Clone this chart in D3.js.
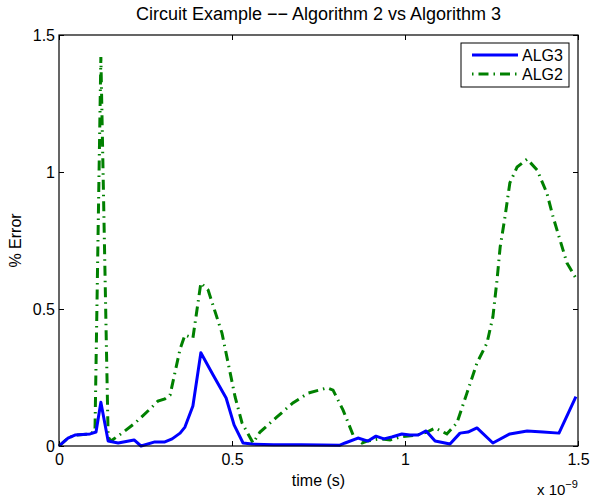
<!DOCTYPE html>
<html>
<head>
<meta charset="utf-8">
<script src="https://cdn.jsdelivr.net/npm/d3@7"></script>
<style>
  body { margin: 0; background: #fff; }
  svg text { font-family: "Liberation Sans", Arial, Helvetica, sans-serif; fill: #000; }
</style>
</head>
<body>
<div id="chart"></div>
<script>
// time in units of 1e-9 s, error in %
var alg3T = [0, 0.026, 0.046, 0.09, 0.107, 0.121, 0.142, 0.171, 0.217, 0.237, 0.277, 0.306, 0.327, 0.35, 0.364, 0.387, 0.41, 0.445, 0.483, 0.506, 0.532, 0.558, 0.62, 0.7, 0.76, 0.812, 0.827, 0.864, 0.893, 0.916, 0.939, 0.962, 0.991, 1.014, 1.038, 1.061, 1.087, 1.13, 1.159, 1.182, 1.208, 1.254, 1.303, 1.353, 1.399, 1.445, 1.494];
var alg3V = [0, 0.029, 0.04, 0.044, 0.051, 0.16, 0.018, 0.011, 0.022, 0.0, 0.015, 0.015, 0.026, 0.047, 0.069, 0.146, 0.34, 0.26, 0.175, 0.077, 0.011, 0.007, 0.005, 0.005, 0.004, 0.003, 0.011, 0.029, 0.018, 0.036, 0.026, 0.033, 0.044, 0.04, 0.04, 0.055, 0.018, 0.007, 0.047, 0.051, 0.066, 0.011, 0.044, 0.055, 0.051, 0.047, 0.18];

var alg2T = [0, 0.026, 0.046, 0.09, 0.104, 0.121, 0.142, 0.15, 0.182, 0.22, 0.269, 0.286, 0.306, 0.321, 0.35, 0.364, 0.387, 0.41, 0.431, 0.471, 0.509, 0.529, 0.561, 0.581, 0.63, 0.676, 0.72, 0.775, 0.792, 0.821, 0.85, 0.876, 0.89, 0.928, 0.957, 0.986, 1.035, 1.064, 1.087, 1.121, 1.15, 1.179, 1.208, 1.237, 1.254, 1.266, 1.275, 1.289, 1.303, 1.324, 1.353, 1.382, 1.41, 1.428, 1.448, 1.468, 1.497];
var alg2V = [0, 0.029, 0.04, 0.044, 0.055, 1.42, 0.033, 0.018, 0.047, 0.084, 0.142, 0.164, 0.172, 0.186, 0.354, 0.405, 0.394, 0.595, 0.569, 0.412, 0.179, 0.084, 0.011, 0.051, 0.106, 0.157, 0.193, 0.212, 0.204, 0.131, 0.04, 0.011, 0.018, 0.026, 0.022, 0.033, 0.04, 0.051, 0.066, 0.044, 0.084, 0.193, 0.303, 0.376, 0.471, 0.606, 0.726, 0.836, 0.96, 1.018, 1.047, 1.007, 0.923, 0.836, 0.752, 0.668, 0.606];

var xTicks = [0, 0.5, 1, 1.5];
var yTicks = [0, 0.5, 1, 1.5];
var seriesNames = ["ALG3", "ALG2"];

var W = 590, H = 497;
var margin = {left: 59, right: 12, top: 35, bottom: 51};

var svg = d3.select("#chart").append("svg")
    .attr("width", W).attr("height", H);

var x = d3.scaleLinear().domain([0, 1.5]).range([margin.left, W - margin.right]);
var y = d3.scaleLinear().domain([0, 1.5]).range([H - margin.bottom, margin.top]);

var fmt = function(d){ return String(d); };

// axes with inward ticks, MATLAB box style
var gx = svg.append("g").attr("transform", "translate(0," + y(0) + ")")
    .call(d3.axisBottom(x).tickValues(xTicks).tickFormat(fmt).tickSize(-5).tickPadding(8));
var gxTop = svg.append("g").attr("transform", "translate(0," + y(1.5) + ")")
    .call(d3.axisTop(x).tickValues(xTicks).tickFormat("").tickSize(-5));
var gy = svg.append("g").attr("transform", "translate(" + x(0) + ",0)")
    .call(d3.axisLeft(y).tickValues(yTicks).tickFormat(fmt).tickSize(-5).tickPadding(4));
var gyRight = svg.append("g").attr("transform", "translate(" + x(1.5) + ",0)")
    .call(d3.axisRight(y).tickValues(yTicks).tickFormat("").tickSize(-5));

[gx, gxTop, gy, gyRight].forEach(function(g){
    g.select(".domain").remove();
    g.selectAll(".tick line").attr("stroke", "#000");
    g.selectAll(".tick text").style("font-size", "16px");
});

var line = d3.line()
    .x(function(d){ return x(d[0]); })
    .y(function(d){ return y(d[1]); });

var alg3 = alg3T.map(function(t, i){ return [t, alg3V[i]]; });
var alg2 = alg2T.map(function(t, i){ return [t, alg2V[i]]; });

svg.append("path").datum(alg2)
    .attr("d", line).attr("fill", "none")
    .attr("stroke", "#008000").attr("stroke-width", 3)
    .attr("stroke-dasharray", "10,5,1.5,5");

svg.append("path").datum(alg3)
    .attr("d", line).attr("fill", "none")
    .attr("stroke", "#0000ff").attr("stroke-width", 3)
    .attr("stroke-linejoin", "round");

// box
svg.append("rect")
    .attr("x", x(0)).attr("y", y(1.5))
    .attr("width", x(1.5) - x(0)).attr("height", y(0) - y(1.5))
    .attr("fill", "none").attr("stroke", "#000").attr("stroke-width", 1.2);

// labels
svg.append("text").attr("x", (x(0) + x(1.5)) / 2).attr("y", 20)
    .attr("text-anchor", "middle").style("font-size", "18px")
    .text("Circuit Example \u2212\u2212 Algorithm 2 vs Algorithm 3");

svg.append("text").attr("x", (x(0) + x(1.5)) / 2).attr("y", 486)
    .attr("text-anchor", "middle").style("font-size", "16px")
    .text("time (s)");

svg.append("text")
    .attr("transform", "translate(21," + (y(0) + y(1.5)) / 2 + ") rotate(-90)")
    .attr("text-anchor", "middle").style("font-size", "16px")
    .text("% Error");

var expo = svg.append("text").attr("x", 537).attr("y", 495).style("font-size", "15px");
expo.append("tspan").text("x 10");
expo.append("tspan").attr("dy", -7).style("font-size", "11px").text("\u22129");

// legend
var lg = svg.append("g");
lg.append("rect").attr("x", 461).attr("y", 43).attr("width", 108).attr("height", 44)
    .attr("fill", "#fff").attr("stroke", "#000").attr("stroke-width", 1);
var legendStyles = [
    {color: "#0000ff", dash: null},
    {color: "#008000", dash: "1.5,5,10,5"}
];
seriesNames.forEach(function(name, i){
    var ly = 55 + i * 19;
    lg.append("line").attr("x1", 472).attr("x2", 518).attr("y1", ly).attr("y2", ly)
        .attr("stroke", legendStyles[i].color).attr("stroke-width", 3)
        .attr("stroke-dasharray", legendStyles[i].dash);
    lg.append("text").attr("x", 522).attr("y", ly + 6).style("font-size", "16px").text(name);
});
</script>
</body>
</html>
